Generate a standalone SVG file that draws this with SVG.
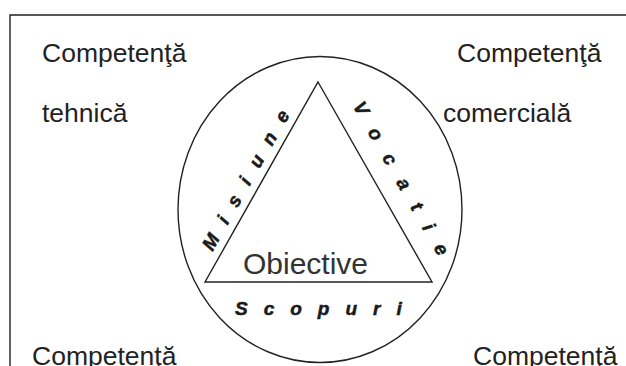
<svg xmlns="http://www.w3.org/2000/svg" width="626" height="366" viewBox="0 0 626 366">
<style>
.lbl{font-family:"Liberation Sans",Arial,sans-serif;font-size:26.5px;fill:#222}
.side{font-family:"Liberation Sans",Arial,sans-serif;font-size:19px;font-weight:bold;font-style:italic;fill:#1a1a1a;stroke:#1a1a1a;stroke-width:0.5}
.ln{fill:none;stroke:#222;stroke-width:1.4}
</style>
<rect width="626" height="366" fill="#fff"/>
<g id="frame"><path class="ln" d="M10,366 V15 H626" stroke-width="1.6"/></g>
<g id="ellipse"><ellipse class="ln" cx="320" cy="209.5" rx="142" ry="153"/></g>
<g id="triangle">
<polygon class="ln" points="318,82 432,282 205,282"/>
<text x="243" y="274" font-family="Liberation Sans,Arial,sans-serif" font-size="30" fill="#333">Obiective</text>
</g>
<g id="misiune"><text class="side" transform="translate(212.5,252) rotate(-60.5)" letter-spacing="14.5">Misiune</text></g>
<g id="vocatie"><text class="side" transform="translate(352.4,106.1) rotate(60.3)" letter-spacing="17.8">Vocatie</text></g>
<g id="scopuri"><text class="side" x="235" y="315" letter-spacing="16">Scopuri</text></g>
<g id="tehnica"><text class="lbl" x="42" y="62">Competenţă</text><text class="lbl" x="42" y="122">tehnică</text></g>
<g id="comerciala"><text class="lbl" x="457" y="62">Competenţă</text><text class="lbl" x="443" y="122">comercială</text></g>
<g id="bottom-left"><text class="lbl" x="32" y="365">Competenţă</text></g>
<g id="bottom-right"><text class="lbl" x="473" y="365">Competenţă</text></g>
<g id="connectors"/>
</svg>
